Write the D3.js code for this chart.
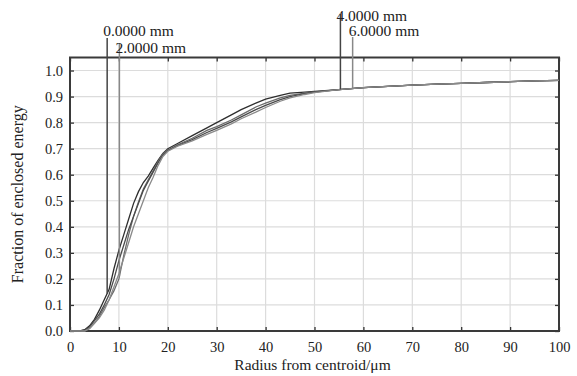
<!DOCTYPE html>
<html>
<head>
<meta charset="utf-8">
<script src="https://cdn.jsdelivr.net/npm/d3@7"></script>
<style>
  body { margin: 0; background: #fff; }
  svg text { font-family: "Liberation Serif", "DejaVu Serif", serif; fill: #222; }
</style>
</head>
<body>
<svg id="chart"></svg>
<script>
// radius from centroid (um)
const radii = [0, 2, 3, 4, 5, 6, 7, 8, 9, 10, 11, 12, 13, 14, 15, 16, 17, 18, 19, 20,
  22, 25, 28, 30, 33, 35, 38, 40, 43, 45, 48, 50, 55, 60, 65, 70, 75, 80, 85, 90, 95, 100];

const tail = [0.927, 0.934, 0.939, 0.944, 0.948, 0.951, 0.954, 0.957, 0.96, 0.962];

// fraction of enclosed energy per field
const field0 = [0, 0, 0.005, 0.02, 0.045, 0.08, 0.12, 0.16, 0.24, 0.31, 0.37, 0.43, 0.49, 0.535, 0.57, 0.595, 0.625, 0.655, 0.682, 0.7,
  0.72, 0.75, 0.78, 0.8, 0.83, 0.85, 0.875, 0.89, 0.905, 0.913, 0.917, 0.92].concat(tail);
const field2 = [0, 0, 0, 0.01, 0.03, 0.055, 0.09, 0.12, 0.155, 0.2, 0.29, 0.37, 0.44, 0.495, 0.545, 0.58, 0.615, 0.65, 0.68, 0.695,
  0.715, 0.74, 0.77, 0.785, 0.81, 0.83, 0.86, 0.875, 0.895, 0.905, 0.913, 0.918].concat(tail);
const field4 = [0, 0, 0.003, 0.015, 0.04, 0.065, 0.1, 0.14, 0.2, 0.27, 0.33, 0.39, 0.44, 0.49, 0.54, 0.575, 0.61, 0.645, 0.675, 0.692,
  0.712, 0.735, 0.762, 0.778, 0.803, 0.822, 0.85, 0.866, 0.888, 0.9, 0.911, 0.917].concat(tail);
const field6 = [0, 0, 0, 0.01, 0.03, 0.05, 0.08, 0.12, 0.17, 0.22, 0.28, 0.34, 0.4, 0.45, 0.5, 0.55, 0.59, 0.635, 0.67, 0.69,
  0.71, 0.73, 0.755, 0.77, 0.795, 0.815, 0.84, 0.858, 0.882, 0.895, 0.908, 0.915].concat(tail);

const fieldNames = ["0.0000 mm", "2.0000 mm", "4.0000 mm", "6.0000 mm"];
const fieldValues = [field0, field2, field4, field6];
const markerRadii = [7.6, 10.1, 55.3, 57.8];

const xTicks = [0, 10, 20, 30, 40, 50, 60, 70, 80, 90, 100];
const yTicks = [0, 0.1, 0.2, 0.3, 0.4, 0.5, 0.6, 0.7, 0.8, 0.9, 1.0];

const W = 577, H = 376;
const margin = { top: 57.5, right: 18, bottom: 45, left: 70 };
const width = W - margin.left - margin.right;
const height = H - margin.top - margin.bottom;

const svg = d3.select('#chart').attr('width', W).attr('height', H);
const g = svg.append('g').attr('transform', `translate(${margin.left},${margin.top})`);

const x = d3.scaleLinear().domain([0, 100]).range([0, width]);
const y = d3.scaleLinear().domain([0, 1.05]).range([height, 0]);

// grid
g.selectAll('.vgrid').data(xTicks.slice(1, -1)).enter().append('line')
  .attr('x1', d => x(d)).attr('x2', d => x(d)).attr('y1', 0).attr('y2', height)
  .attr('stroke', '#dcdcdc').attr('stroke-width', 1.2);
g.selectAll('.hgrid').data(yTicks.slice(1)).enter().append('line')
  .attr('x1', 0).attr('x2', width).attr('y1', d => y(d)).attr('y2', d => y(d))
  .attr('stroke', '#dcdcdc').attr('stroke-width', 1.2);

// axes, ticks pointing inwards
const fmt = d3.format('.1f');
g.append('g').attr('transform', `translate(0,${height})`)
  .call(d3.axisBottom(x).tickValues(xTicks).tickSize(-4).tickPadding(11).tickFormat(d3.format('d')));
g.append('g').call(d3.axisTop(x).tickValues(xTicks).tickSize(-4).tickFormat(''));
g.append('g').call(d3.axisLeft(y).tickValues(yTicks).tickSize(-4).tickPadding(7).tickFormat(fmt));
g.append('g').attr('transform', `translate(${width},0)`)
  .call(d3.axisRight(y).tickValues(yTicks).tickSize(-4).tickFormat(''));
g.selectAll('.domain').remove();
g.selectAll('.tick line').attr('stroke', '#333').attr('stroke-width', 1.3);
g.selectAll('.tick text').attr('font-size', 14.5).attr('fill', '#222')
  .style('font-family', '"Liberation Serif", serif');

// frame
g.append('rect').attr('x', 0).attr('y', 0).attr('width', width).attr('height', height)
  .attr('fill', 'none').attr('stroke', '#3a3a3a').attr('stroke-width', 2);

// curves
const colors = ['#2e2e2e', '#6a6a6a', '#4a4a4a', '#8a8a8a'];
const line = d3.line().x(d => x(d[0])).y(d => y(d[1]));
fieldValues.forEach((vals, i) => {
  g.append('path')
    .datum(radii.map((r, j) => [r, vals[j]]))
    .attr('d', line)
    .attr('fill', 'none')
    .attr('stroke', colors[i])
    .attr('stroke-width', 1.3);
});

// field markers
const lineTop = [-19.5, -14.5, -43.5, -20.5];
const labelBase = [-21.5, -4.5, -36.5, -21.5];
const markerColors = ['#444', '#888', '#444', '#888'];
markerRadii.forEach((r, i) => {
  const v = d3.scaleLinear().domain(radii).range(fieldValues[i])(r);
  g.append('line')
    .attr('x1', x(r)).attr('x2', x(r))
    .attr('y1', y(v)).attr('y2', lineTop[i])
    .attr('stroke', markerColors[i]).attr('stroke-width', 1.5);
  g.append('text')
    .attr('x', x(r) - 4).attr('y', labelBase[i])
    .attr('font-size', 15.5)
    .text(fieldNames[i]);
});

// axis titles
svg.append('text')
  .attr('x', margin.left + width / 2 - 2).attr('y', 370)
  .attr('text-anchor', 'middle').attr('font-size', 15.5)
  .text('Radius from centroid/μm');
svg.append('text')
  .attr('transform', `translate(23,${margin.top + height / 2}) rotate(-90)`)
  .attr('text-anchor', 'middle').attr('font-size', 16)
  .text('Fraction of enclosed energy');
</script>
</body>
</html>
